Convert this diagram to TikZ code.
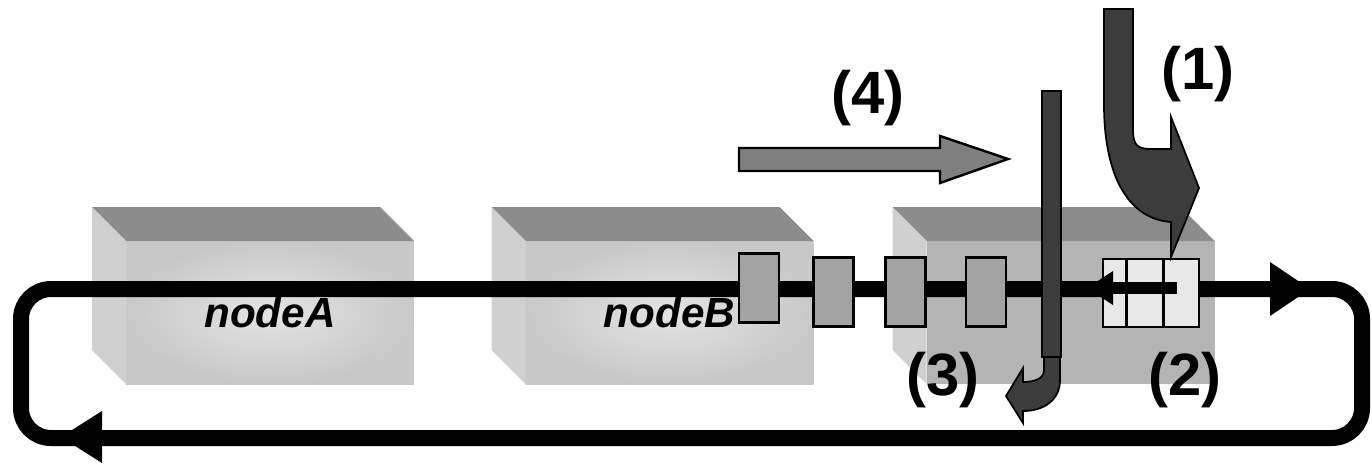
\documentclass[tikz,border=0pt]{standalone}
\usepackage{fontspec}
\setmainfont{Liberation Sans}
\usetikzlibrary{calc,positioning}

\definecolor{topgray}{HTML}{8C8C8C}
\definecolor{sidegray}{HTML}{D0D0D0}
\definecolor{facein}{HTML}{E4E4E4}
\definecolor{faceout}{HTML}{C8C8C8}
\definecolor{busygray}{HTML}{B4B4B4}
\definecolor{pktgray}{HTML}{A2A2A2}
\definecolor{bufgray}{HTML}{E8E8E8}
\definecolor{bargray}{HTML}{3C3C3C}
\definecolor{flowgray}{HTML}{808080}

\tikzset{
  front/.style={rectangle, minimum width=2.88cm, minimum height=1.43cm, inner sep=0pt, outer sep=0pt,
    font=\fontsize{12}{14}\selectfont\bfseries\itshape},
  lit/.style={front, inner color=facein, outer color=faceout},
  busy/.style={front, fill=busygray},
  ring/.style={line width=0.16cm, rounded corners=0.3cm},
  pkt/.style={draw, fill=pktgray, line width=0.6pt, minimum width=0.40cm, minimum height=0.69cm, inner sep=0pt},
  fat/.style={draw, line width=0.5pt, fill=bargray},
  num/.style={font=\fontsize{17}{20}\selectfont\bfseries},
}

\begin{document}
\begin{tikzpicture}
    \useasboundingbox (0,0) rectangle (13.72,4.64);

    % the three nodes
    \node[lit] (A) at (2.70,1.515) {nodeA};
    \node[lit] (B) at (6.695,1.515) {};
    \node[busy] (C) at (10.705,1.515) {};
    \foreach \b in {A,B,C} {
        \fill[topgray] (\b.north west) -- ++(-0.34,0.34) -- ++(2.88,0) -- (\b.north east) -- cycle;
        \fill[sidegray] (\b.north west) -- ++(-0.34,0.34) -- ++(0,-1.43) -- (\b.south west) -- cycle;
    }

    % ring
    \draw[ring] (0.21,1.75) rectangle (13.62,0.26);
    \fill (12.70,2.02) -- (13.10,1.75) -- (12.70,1.48) -- cycle;
    \fill (1.02,0.53) -- (0.61,0.27) -- (1.02,0.01) -- cycle;

    \node[font=\fontsize{12}{14}\selectfont\bfseries\itshape] (labB) at (B) {nodeB};

    % packets on the ring
    \foreach \x/\y [count=\i] in {7.59/1.76, 8.335/1.72, 9.055/1.72, 9.86/1.72}
        \node[pkt] (p\i) at (\x,\y) {};

    % buffer
    \node[draw, fill=bufgray, line width=0.7pt, minimum width=0.96cm, minimum height=0.68cm, inner sep=0pt] (buf) at (11.51,1.71) {};
    \draw[line width=0.7pt] ($(buf.north west)!0.25!(buf.north east)$) -- ($(buf.south west)!0.25!(buf.south east)$);
    \draw[line width=0.7pt] ($(buf.north west)!0.625!(buf.north east)$) -- ($(buf.south west)!0.625!(buf.south east)$);
    \coordinate (qtail) at (11.77,1.76);
    \coordinate (qhead) at (11.10,1.76);
    \draw[line width=0.12cm] (qtail) -- (qhead);
    \fill (11.13,1.93) -- (10.87,1.76) -- (11.13,1.59) -- cycle;

    % bar and its bent arrow
    \node[fat, minimum width=0.19cm, minimum height=2.66cm, inner sep=0pt] (bar) at (10.515,2.40) {};
    \filldraw[fat] (10.44,1.07) -- (10.44,0.94) .. controls (10.44,0.85) and (10.34,0.82) .. (10.23,0.82)
        -- (10.23,0.96) -- (10.06,0.68) -- (10.23,0.41) -- (10.23,0.53)
        .. controls (10.45,0.53) and (10.60,0.65) .. (10.60,0.84) -- (10.60,1.07) -- cycle;

    % arrow (1)
    \filldraw[fat] (11.04,4.55) -- (11.33,4.55) -- (11.33,3.34) .. controls (11.33,3.18) and (11.38,3.15) .. (11.52,3.15)
        -- (11.71,3.15) -- (11.71,3.47) -- (11.99,2.76) -- (11.71,2.07) -- (11.71,2.42)
        .. controls (11.30,2.45) and (11.04,2.85) .. (11.04,3.60) -- cycle;

    % arrow (4)
    \filldraw[draw=black, line width=0.7pt, fill=flowgray] (7.39,3.16) -- (9.40,3.16) -- (9.40,3.28) -- (10.08,3.05)
        -- (9.40,2.81) -- (9.40,2.93) -- (7.39,2.93) -- cycle;

    \node[num] (n1) at (11.98,3.90) {(1)};
    \node[num] (n2) at (11.85,0.84) {(2)};
    \node[num] (n3) at (9.43,0.84) {(3)};
    \node[num] (n4) at (8.68,3.66) {(4)};
\end{tikzpicture}
\end{document}
